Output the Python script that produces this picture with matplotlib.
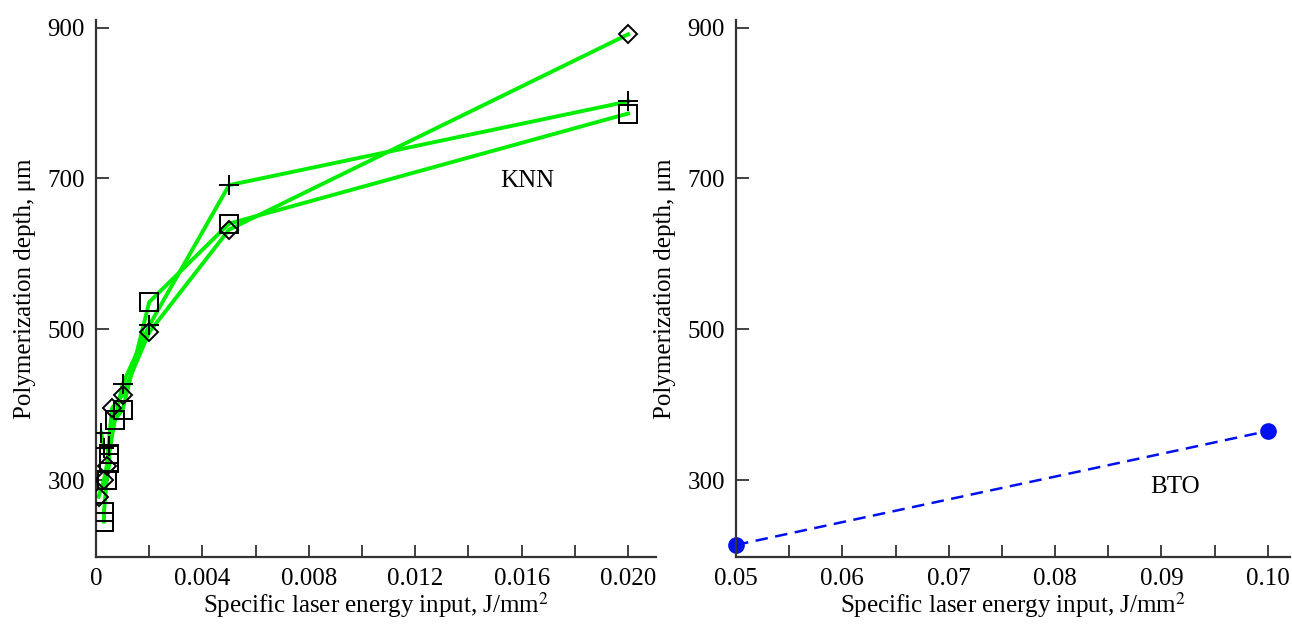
import numpy as np
import matplotlib.pyplot as plt
from matplotlib.ticker import MultipleLocator

plt.rcParams['font.family'] = ['Liberation Serif', 'DejaVu Serif']
plt.rcParams['mathtext.fontset'] = 'stix'

# KNN series (left panel)
sq_x = [0.0003, 0.0003, 0.0004, 0.0005, 0.0005, 0.0007, 0.001, 0.002, 0.005, 0.02]
sq_y = [245, 258, 300, 322, 335, 380, 393, 536, 640, 786]

dia_x = [0.0001, 0.0003, 0.0004, 0.0006, 0.001, 0.002, 0.005, 0.02]
dia_y = [278, 300, 318, 395, 413, 496, 632, 891]

plus_x = [0.0002, 0.0003, 0.0005, 0.001, 0.002, 0.005, 0.02]
plus_y = [362, 342, 345, 427, 505, 691, 802]

# BTO series (right panel)
bto_x = [0.05, 0.10]
bto_y = [214, 365]

xlabel = 'Specific laser energy input, J/mm$^2$'
ylabel = 'Polymerization depth, μm'

fig = plt.figure(figsize=(12.92, 6.26), dpi=100)
ax1 = fig.add_axes([96/1292, 1-557/626, 560/1292, 537/626])
ax2 = fig.add_axes([736/1292, 1-557/626, 554/1292, 537/626])

green = '#00ee00'
for xs, ys, mk, ms in [(sq_x, sq_y, 's', 13), (dia_x, dia_y, 'D', 9.5), (plus_x, plus_y, '+', 14)]:
    ax1.plot(xs, ys, color=green, linewidth=2.8, zorder=2)
    ax1.plot(xs, ys, linestyle='none', marker=mk, markersize=ms, markerfacecolor='none',
             markeredgecolor='black', markeredgewidth=1.4, zorder=3)

ax2.plot(bto_x, bto_y, color='#0010ee', linestyle='--', linewidth=1.8, dashes=(5, 3),
         marker='o', markersize=11, markerfacecolor='#0010ee', clip_on=False)

ax1.set_xlim(0, 0.02105)
ax2.set_xlim(0.05, 0.1021)
ax1.xaxis.set_minor_locator(MultipleLocator(0.002))
ax1.set_xticks([0, 0.004, 0.008, 0.012, 0.016, 0.020])
ax1.set_xticklabels(['0', '0.004', '0.008', '0.012', '0.016', '0.020'])
ax2.xaxis.set_minor_locator(MultipleLocator(0.005))
ax2.set_xticks([0.05, 0.06, 0.07, 0.08, 0.09, 0.10])
ax2.set_xticklabels(['0.05', '0.06', '0.07', '0.08', '0.09', '0.10'])

for ax in (ax1, ax2):
    ax.set_ylim(198, 910)
    ax.set_yticks([300, 500, 700, 900])
    ax.spines['top'].set_visible(False)
    ax.spines['right'].set_visible(False)
    for s in ('left', 'bottom'):
        ax.spines[s].set_linewidth(1.6)
        ax.spines[s].set_color('#333333')
    ax.tick_params(which='both', direction='in', length=9, width=1.3, color='#333333',
                   labelsize=18, pad=8)
    ax.set_xlabel(xlabel, fontsize=18, labelpad=0)
    ax.set_ylabel(ylabel, fontsize=18, labelpad=8)

ax1.text(0.0162, 697, 'KNN', fontsize=18, ha='center', va='center')
ax2.text(0.0913, 291, 'BTO', fontsize=18, ha='center', va='center')

fig.savefig('out.png', dpi=100)
